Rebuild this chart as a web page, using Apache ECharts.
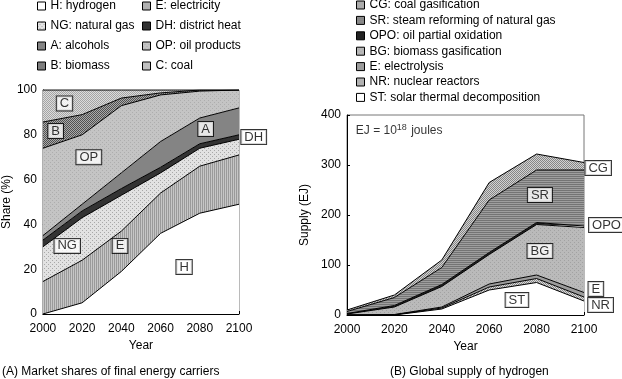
<!DOCTYPE html>
<html><head><meta charset="utf-8">
<script src="https://cdn.jsdelivr.net/npm/echarts@6/dist/echarts.min.js"></script>
<style>html,body{margin:0;padding:0;background:#fff}#c{width:622px;height:379px}</style>
</head><body><div id="c"></div>
<script>
// ---- data ----
const years = ['2000', '2020', '2040', '2060', '2080', '2100'];
// (A) market shares (%), stacked bottom -> top
const shareH  = [0, 5, 19, 36, 45, 49];
const shareE  = [14.5, 19, 18, 18, 21, 22];
const shareNG = [15.5, 19, 16, 9, 8, 7];
const shareDH = [3, 3, 3, 2.5, 2, 2];
const shareA  = [2, 3, 7, 11.5, 11.5, 12];
const shareOP = [39, 31, 30, 20.8, 12, 8];
const shareB  = [11.7, 9, 3.4, 0.9, 0.5, 0];
const shareC  = [14.3, 11, 3.6, 1.3, 0, 0];
// (B) hydrogen supply (EJ), stacked bottom -> top
const supST  = [0, 0, 12, 50, 65, 28];
const supNR  = [0, 0.5, 2, 6, 8, 8];
const supE   = [0, 0.5, 2, 6, 7, 9];
const supBG  = [2, 15, 41, 59, 101, 130];
const supOPO = [1, 3, 4, 4, 4, 3];
const supSR  = [4, 16, 34, 105, 105, 112];
const supCG  = [3, 5, 15, 35, 32, 15];
const shareTicks = [0, 20, 40, 60, 80, 100];
const supplyTicks = [0, 100, 200, 300, 400];
// annotation labels [year, value, text]
const labelsA = [[2011, 94, 'C'], [2006.5, 81.7, 'B'], [2023.4, 70, 'OP'], [2083, 82.6, 'A'],
                 [2107.5, 79, 'DH'], [2012.4, 30.4, 'NG'], [2039.3, 30.4, 'E'], [2072, 21, 'H']];
const labelsB = [[2106, 294, 'CG'], [2081.4, 240, 'SR'], [2109.5, 180, 'OPO'], [2081.4, 128, 'BG'],
                 [2105, 52, 'E'], [2107, 20, 'NR'], [2071.7, 30, 'ST']];

function pat(kind, fg, bg) {
  const c = document.createElement('canvas');
  c.width = 4; c.height = 4;
  const g = c.getContext('2d');
  g.fillStyle = bg; g.fillRect(0, 0, 4, 4);
  g.fillStyle = fg;
  for (let y = 0; y < 4; y++) for (let x = 0; x < 4; x++) {
    let on = false;
    if (kind === 'checker') on = (x + y) % 2 === 0;
    else if (kind === 'vlines') on = x % 2 === 0;
    else if (kind === 'hlines') on = y % 2 === 0;
    else if (kind === 'sparse') on = (x === 0 && y === 0) || (x === 2 && y === 2);
    if (on) g.fillRect(x, y, 1, 1);
  }
  return { image: c, repeat: 'repeat' };
}
const F = {
  H: '#ffffff',
  E: pat('vlines', '#9a9a9a', '#c6c6c6'),
  NG: pat('sparse', '#a8a8a8', '#e2e2e2'),
  DH: '#333333',
  A: '#848484',
  OP: pat('sparse', '#adadad', '#c4c4c4'),
  B: pat('checker', '#505050', '#aaaaaa'),
  C: pat('checker', '#a4a4a4', '#dcdcdc'),
  CG: pat('checker', '#868686', '#d2d2d2'),
  SR: pat('hlines', '#747474', '#9e9e9e'),
  OPO: '#222222',
  BG: pat('sparse', '#a2a2a2', '#bababa'),
  EL: '#9c9c9c',
  NR: pat('checker', '#8a8a8a', '#dadada'),
  ST: '#ffffff'
};
const font = 'Liberation Sans, Arial';

function areaSeries(name, vals, fill, xi, stack) {
  return {
    name, type: 'line', xAxisIndex: xi, yAxisIndex: xi, stack, symbol: 'none',
    data: vals.slice(),
    lineStyle: { color: '#000', width: 1 }, areaStyle: { color: fill, opacity: 1 },
    itemStyle: { color: fill }, emphasis: { disabled: true }, silent: true, animation: false
  };
}
function labelSeries(xi, yi, data) {
  return {
    type: 'scatter', xAxisIndex: xi, yAxisIndex: yi, data, symbolSize: 1, clip: false, z: 10,
    itemStyle: { color: 'rgba(0,0,0,0)' }, silent: true, animation: false,
    label: { show: true, position: 'inside', formatter: p => p.value[2], color: '#000',
      fontFamily: font, fontSize: 13, backgroundColor: '#fff',
      borderColor: '#000', borderWidth: 1, padding: [1, 3, 0, 3] }
  };
}
const N = {
  H: 'H: hydrogen', E: 'E: electricity', NG: 'NG: natural gas', DH: 'DH: district heat',
  A: 'A: alcohols', OP: 'OP: oil products', B: 'B: biomass', C: 'C: coal',
  CG: 'CG: coal gasification', SR: 'SR: steam reforming of natural gas', OPO: 'OPO: oil partial oxidation',
  BG: 'BG: biomass gasification', EL: 'E: electrolysis', NR: 'NR: nuclear reactors', ST: 'ST: solar thermal decomposition'
};
function legendItems(keys) {
  return keys.map(k => ({ name: N[k], itemStyle: { color: F[k], borderColor: '#000', borderWidth: 1 } }));
}
const legendCommon = {
  orient: 'vertical', icon: 'rect', itemWidth: 8, itemHeight: 8, selectedMode: false, padding: 0,
  textStyle: { fontFamily: font, fontSize: 12, color: '#000' }
};
function catAxis(gi) {
  return {
    type: 'category', gridIndex: gi, data: years, boundaryGap: false,
    name: 'Year', nameLocation: 'middle', nameGap: 22,
    nameTextStyle: { fontFamily: font, fontSize: 12, color: '#000' },
    axisLine: { lineStyle: { color: '#000' } },
    axisTick: { inside: true, length: 3, alignWithLabel: true, lineStyle: { color: '#000' } },
    axisLabel: { fontFamily: font, fontSize: 12, color: '#000', margin: 9 },
    splitLine: { show: false }
  };
}
function hiddenX(gi) {
  return { type: 'value', gridIndex: gi, min: 2000, max: 2100, show: false, splitLine: { show: false } };
}
function yAxis(gi, ticks, interval, name, gap) {
  return {
    type: 'value', gridIndex: gi, min: ticks[0], max: ticks[ticks.length - 1], interval,
    name, nameLocation: 'middle', nameGap: gap,
    nameTextStyle: { fontFamily: font, fontSize: 12, color: '#000' },
    axisLine: { show: true, lineStyle: { color: '#000' } },
    axisTick: { show: true, inside: true, length: 3, lineStyle: { color: '#000' } },
    axisLabel: { fontFamily: font, fontSize: 12, color: '#000', margin: 6 }, splitLine: { show: false }
  };
}
const option = {
  animation: false,
  grid: [
    { left: 38, top: 90, width: 201, height: 224, show: true, borderColor: '#777', borderWidth: 1 },
    { left: 347, top: 115, width: 237, height: 200, show: true, borderColor: '#777', borderWidth: 1 }
  ],
  legend: [
    Object.assign({ left: 37, top: 0, itemGap: 8, data: legendItems(['H', 'NG', 'A', 'B']) }, legendCommon),
    Object.assign({ left: 142, top: 0, itemGap: 8, data: legendItems(['E', 'DH', 'OP', 'C']) }, legendCommon),
    Object.assign({ left: 356, top: -1, itemGap: 3.4, data: legendItems(['CG', 'SR', 'OPO', 'BG', 'EL', 'NR', 'ST']) }, legendCommon)
  ],
  xAxis: [catAxis(0), catAxis(1), hiddenX(0), hiddenX(1)],
  yAxis: [
    yAxis(0, shareTicks, 20, 'Share (%)', 26),
    yAxis(1, supplyTicks, 100, 'Supply (EJ)', 36)
  ],
  graphic: [
    { type: 'text', left: 2, top: 366, style: { text: '(A) Market shares of final energy carriers', font: '12px Liberation Sans, Arial', fill: '#000' } },
    { type: 'text', left: 390, top: 366, style: { text: '(B) Global supply of hydrogen', font: '12px Liberation Sans, Arial', fill: '#000' } }
  ],
  series: [
    areaSeries(N.H, shareH, F.H, 0, 'L'),
    areaSeries(N.E, shareE, F.E, 0, 'L'),
    areaSeries(N.NG, shareNG, F.NG, 0, 'L'),
    areaSeries(N.DH, shareDH, F.DH, 0, 'L'),
    areaSeries(N.A, shareA, F.A, 0, 'L'),
    areaSeries(N.OP, shareOP, F.OP, 0, 'L'),
    areaSeries(N.B, shareB, F.B, 0, 'L'),
    areaSeries(N.C, shareC, F.C, 0, 'L'),
    areaSeries(N.ST, supST, F.ST, 1, 'R'),
    areaSeries(N.NR, supNR, F.NR, 1, 'R'),
    areaSeries(N.EL, supE, F.EL, 1, 'R'),
    areaSeries(N.BG, supBG, F.BG, 1, 'R'),
    areaSeries(N.OPO, supOPO, F.OPO, 1, 'R'),
    areaSeries(N.SR, supSR, F.SR, 1, 'R'),
    areaSeries(N.CG, supCG, F.CG, 1, 'R'),
    labelSeries(2, 0, labelsA),
    labelSeries(3, 1, labelsB),
    { type: 'scatter', xAxisIndex: 3, yAxisIndex: 1, data: [[2003.5, 368]], symbolSize: 1, clip: false, z: 10,
      itemStyle: { color: 'rgba(0,0,0,0)' }, silent: true,
      label: { show: true, position: 'right', distance: 0, formatter: 'EJ = 10{sup|18} joules', color: '#000',
        fontFamily: font, fontSize: 12, rich: { sup: { fontSize: 9, verticalAlign: 'top', fontFamily: font, color: '#000', padding: [0, 1, 6, 0] } } } }
  ]
};
const chart = echarts.init(document.getElementById('c'), null, { renderer: 'canvas' });
chart.setOption(option);
</script></body></html>
